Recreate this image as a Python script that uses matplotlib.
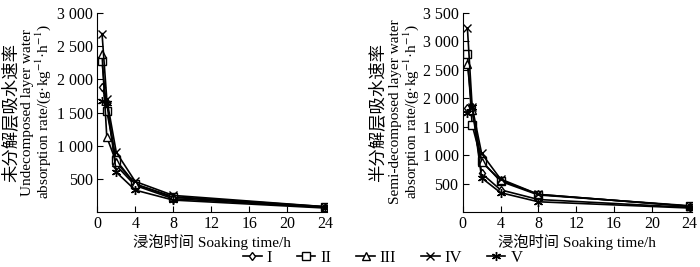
import numpy as np
import matplotlib
matplotlib.use("Agg")
import matplotlib.pyplot as plt

plt.rcParams['font.family'] = ['Liberation Serif', 'Noto Sans CJK SC', 'DejaVu Sans']
plt.rcParams['mathtext.fontset'] = 'stix'

times = [0.5, 1, 2, 4, 8, 24]
series_names = ["I", "II", "III", "IV", "V"]

undecomposed = {
    "I": [1880, 1650, 700, 400, 200, 70],
    "II": [2270, 1520, 780, 420, 230, 80],
    "III": [2380, 1130, 750, 420, 220, 75],
    "IV": [2690, 1700, 900, 460, 250, 80],
    "V": [1670, 1650, 600, 330, 180, 60],
}
semi_decomposed = {
    "I": [1830, 1850, 680, 390, 220, 80],
    "II": [2780, 1530, 900, 540, 300, 110],
    "III": [2600, 1800, 880, 560, 310, 100],
    "IV": [3230, 1850, 1030, 580, 310, 100],
    "V": [1750, 1850, 600, 340, 180, 70],
}

markers = {"I": "d", "II": "s", "III": "^", "IV": "x", "V": (6, 2, 0)}
msizes = {"I": 4.5, "II": 5.5, "III": 5.5, "IV": 5.5, "V": 6.5}


def fmt(v):
    v = int(v)
    return f"{v:,}".replace(",", " ")


def draw(ax, data, ymax, yticks):
    for name in series_names:
        ax.plot(times, data[name], color="black", linewidth=1.2,
                marker=markers[name], markersize=msizes[name],
                markerfacecolor="white", markeredgecolor="black",
                markeredgewidth=1.0, label=name)
    ax.set_xlim(0, 24.2)
    ax.set_ylim(0, ymax)
    ax.set_xticks([0, 4, 8, 12, 16, 20, 24])
    ax.set_yticks(yticks)
    ax.set_yticklabels([fmt(t) for t in yticks])
    ax.spines["top"].set_visible(False)
    ax.spines["right"].set_visible(False)
    ax.tick_params(direction="in", length=4, labelsize=11.5, pad=3)
    ax.set_xlabel("浸泡时间 Soaking time/h", fontsize=11, labelpad=1)


def ylabel(x_cn, x_l1, x_l2, cn, line1):
    yc = 0.58
    fig.text(x_cn / 700, yc, cn, rotation=90, ha="center", va="center",
             fontsize=12.5)
    fig.text(x_l1 / 700, yc, line1, rotation=90, ha="center", va="center",
             fontsize=11)
    fig.text(x_l2 / 700, yc, "absorption rate/(g·kg$^{-1}$·h$^{-1}$)",
             rotation=90, ha="center", va="center", fontsize=11)


fig = plt.figure(figsize=(7, 2.67), dpi=100)
ax1 = fig.add_axes([0.139, 0.206, 0.328, 0.745])
ax2 = fig.add_axes([0.661, 0.206, 0.327, 0.745])

draw(ax1, undecomposed, 3000, [500, 1000, 1500, 2000, 2500, 3000])
draw(ax2, semi_decomposed, 3500, [500, 1000, 1500, 2000, 2500, 3000, 3500])

ylabel(11, 28, 43, "未分解层吸水速率", "Undecomposed layer water")
ylabel(378, 396, 411, "半分解层吸水速率", "Semi-decomposed layer water")

handles, labels = ax1.get_legend_handles_labels()
fig.legend(handles, labels, loc="center", ncol=5, frameon=False,
           bbox_to_anchor=(0.547, 0.035), fontsize=12, handlelength=1.1,
           columnspacing=1.5, handletextpad=0.3)

fig.savefig("out.png", dpi=100)
